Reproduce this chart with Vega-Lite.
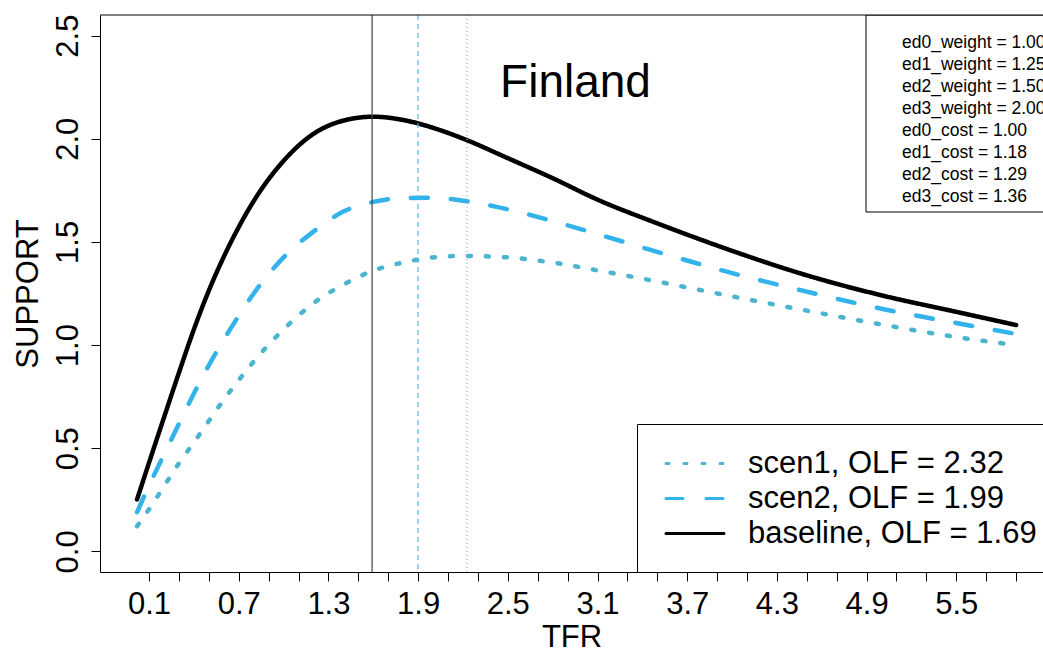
{
  "$schema": "https://vega.github.io/schema/vega-lite/v6.json",
  "width": 943,
  "height": 557,
  "autosize": "none",
  "padding": {"left": 100, "top": 15, "right": 0, "bottom": 83},
  "background": "white",
  "config": {"view": {"stroke": null}, "font": "Liberation Sans"},
  "title": {"text": "Finland", "orient": "top", "anchor": "middle", "offset": -129, "baseline": "alphabetic", "fontSize": 46, "fontWeight": "normal", "color": "black", "font": "Liberation Sans", "dx": 4},
  "datasets": {
    "curves": [
      {"t": 0.02, "scen1": 0.122, "scen2": 0.190, "baseline": 0.252},
      {"t": 0.1, "scen1": 0.204, "scen2": 0.319, "baseline": 0.430},
      {"t": 0.2, "scen1": 0.315, "scen2": 0.469, "baseline": 0.649},
      {"t": 0.3, "scen1": 0.427, "scen2": 0.618, "baseline": 0.866},
      {"t": 0.4, "scen1": 0.528, "scen2": 0.765, "baseline": 1.076},
      {"t": 0.5, "scen1": 0.632, "scen2": 0.902, "baseline": 1.264},
      {"t": 0.6, "scen1": 0.735, "scen2": 1.026, "baseline": 1.428},
      {"t": 0.7, "scen1": 0.830, "scen2": 1.142, "baseline": 1.572},
      {"t": 0.8, "scen1": 0.920, "scen2": 1.250, "baseline": 1.698},
      {"t": 1.0, "scen1": 1.076, "scen2": 1.425, "baseline": 1.893},
      {"t": 1.2, "scen1": 1.203, "scen2": 1.550, "baseline": 2.024},
      {"t": 1.4, "scen1": 1.293, "scen2": 1.647, "baseline": 2.088},
      {"t": 1.6, "scen1": 1.361, "scen2": 1.694, "baseline": 2.107},
      {"t": 1.8, "scen1": 1.400, "scen2": 1.713, "baseline": 2.091},
      {"t": 2.0, "scen1": 1.425, "scen2": 1.714, "baseline": 2.053},
      {"t": 2.2, "scen1": 1.432, "scen2": 1.700, "baseline": 2.001},
      {"t": 2.5, "scen1": 1.425, "scen2": 1.658, "baseline": 1.906},
      {"t": 2.8, "scen1": 1.400, "scen2": 1.601, "baseline": 1.809},
      {"t": 3.1, "scen1": 1.362, "scen2": 1.538, "baseline": 1.705},
      {"t": 3.5, "scen1": 1.308, "scen2": 1.452, "baseline": 1.590},
      {"t": 4.0, "scen1": 1.236, "scen2": 1.349, "baseline": 1.457},
      {"t": 4.5, "scen1": 1.167, "scen2": 1.259, "baseline": 1.338},
      {"t": 5.0, "scen1": 1.100, "scen2": 1.176, "baseline": 1.241},
      {"t": 5.5, "scen1": 1.039, "scen2": 1.107, "baseline": 1.161},
      {"t": 5.9, "scen1": 1.000, "scen2": 1.054, "baseline": 1.097}
    ],
    "opt": [
      {"s": "baseline", "t": 1.592},
      {"s": "scen2", "t": 1.899},
      {"s": "scen1", "t": 2.227}
    ],
    "info": [
      {"info": "ed0_weight = 1.00\ned1_weight = 1.25\ned2_weight = 1.50\ned3_weight = 2.00\ned0_cost = 1.00\ned1_cost = 1.18\ned2_cost = 1.29\ned3_cost = 1.36"}
    ]
  },
  "layer": [
    {
      "data": {"name": "curves"},
      "transform": [{"fold": ["scen1", "scen2", "baseline"], "as": ["series", "v"]}],
      "mark": {"type": "line", "strokeWidth": 4.5, "strokeCap": "round", "interpolate": "monotone"},
      "encoding": {
        "x": {
          "field": "t", "type": "quantitative", "title": "TFR",
          "scale": {"domain": [-0.228, 6.08], "nice": false, "zero": false},
          "axis": {
            "title": "TFR",
            "values": [0.1, 0.3, 0.5, 0.7, 0.9, 1.1, 1.3, 1.5, 1.7, 1.9, 2.1, 2.3, 2.5, 2.7, 2.9, 3.1, 3.3, 3.5, 3.7, 3.9, 4.1, 4.3, 4.5, 4.7, 4.9, 5.1, 5.3, 5.5, 5.7, 5.9],
            "tickCount": 100,
            "labelExpr": "(round((datum.value - 0.1) / 0.2) % 3 == 0) ? format(datum.value, '.1f') : ''",
            "grid": false, "tickSize": 9, "tickColor": "black", "domainColor": "black",
            "labelFontSize": 31, "labelColor": "black", "labelFont": "Liberation Sans",
            "labelPadding": 8, "labelFlush": false, "labelOverlap": false,
            "titleFontSize": 31, "titleFontWeight": "normal", "titleColor": "black", "titleFont": "Liberation Sans",
            "titlePadding": 3
          }
        },
        "y": {
          "field": "v", "type": "quantitative", "title": "SUPPORT",
          "scale": {"domain": [-0.1, 2.6], "nice": false, "zero": false},
          "axis": {
            "title": "SUPPORT",
            "values": [0, 0.5, 1, 1.5, 2, 2.5],
            "tickCount": 100,
            "format": ".1f",
            "labelAngle": -90, "labelAlign": "center", "labelBaseline": "bottom",
            "grid": false, "tickSize": 9, "tickColor": "black", "domainColor": "black",
            "labelFontSize": 31, "labelColor": "black", "labelFont": "Liberation Sans",
            "labelPadding": 7, "labelFlush": false, "labelOverlap": false,
            "titleFontSize": 31, "titleFontWeight": "normal", "titleColor": "black", "titleFont": "Liberation Sans",
            "titlePadding": 8
          }
        },
        "color": {
          "field": "series", "type": "nominal",
          "scale": {"domain": ["scen1", "scen2", "baseline"], "range": ["#4BB4CE", "#33B2EB", "#000000"]},
          "legend": {
            "title": null, "orient": "none", "legendX": 537, "legendY": 409,
            "strokeColor": "black", "fillColor": "white", "padding": 23.5,
            "symbolType": "M-2,0H2", "symbolSize": 841, "symbolStrokeWidth": 3, "symbolOffset": 18.5,
            "labelFontSize": 31, "labelFont": "Liberation Sans", "labelColor": "black",
            "labelOffset": 37, "labelLimit": 600, "rowPadding": 4,
            "labelExpr": "datum.label == 'scen1' ? 'scen1, OLF = 2.32' : datum.label == 'scen2' ? 'scen2, OLF = 1.99' : 'baseline, OLF = 1.69'",
            "encode": {"symbols": {"update": {"strokeCap": {"value": "round"}}}}
          }
        },
        "strokeDash": {
          "field": "series", "type": "nominal",
          "scale": {"domain": ["scen1", "scen2", "baseline"], "range": [[3, 15], [17, 23], [1, 0]]}
        }
      }
    },
    {
      "data": {"name": "opt"},
      "transform": [{"filter": "datum.s == 'baseline'"}],
      "mark": {"type": "rule", "color": "#444444", "strokeWidth": 1.2},
      "encoding": {"x": {"field": "t", "type": "quantitative", "title": "TFR"}}
    },
    {
      "data": {"name": "opt"},
      "transform": [{"filter": "datum.s == 'scen2'"}],
      "mark": {"type": "rule", "color": "#3FBDF2", "strokeWidth": 1.2, "strokeDash": [5, 4]},
      "encoding": {"x": {"field": "t", "type": "quantitative", "title": "TFR"}}
    },
    {
      "data": {"name": "opt"},
      "transform": [{"filter": "datum.s == 'scen1'"}],
      "mark": {"type": "rule", "color": "#6FC2DA", "strokeWidth": 1.2, "strokeDash": [1, 3]},
      "encoding": {"x": {"field": "t", "type": "quantitative", "title": "TFR"}}
    },
    {
      "data": {"name": "info"},
      "mark": {"type": "rect", "fill": "white", "stroke": "black", "strokeWidth": 1, "clip": true},
      "encoding": {
        "x": {"datum": 4.896, "type": "quantitative", "title": "TFR"},
        "x2": {"datum": 6.5},
        "y": {"datum": 2.6, "type": "quantitative", "title": "SUPPORT"},
        "y2": {"datum": 1.645}
      }
    },
    {
      "data": {"name": "info"},
      "mark": {"type": "text", "align": "left", "baseline": "alphabetic", "fontSize": 17.5, "lineHeight": 22, "lineBreak": "\n", "color": "black", "font": "Liberation Sans"},
      "encoding": {
        "x": {"datum": 5.137, "type": "quantitative", "title": "TFR"},
        "y": {"datum": 2.44, "type": "quantitative", "title": "SUPPORT"},
        "text": {"field": "info"}
      }
    },
    {
      "data": {"values": [{}]},
      "mark": {"type": "rule", "color": "black", "strokeWidth": 1},
      "encoding": {"y": {"datum": 2.6, "type": "quantitative", "title": "SUPPORT"}}
    }
  ]
}
